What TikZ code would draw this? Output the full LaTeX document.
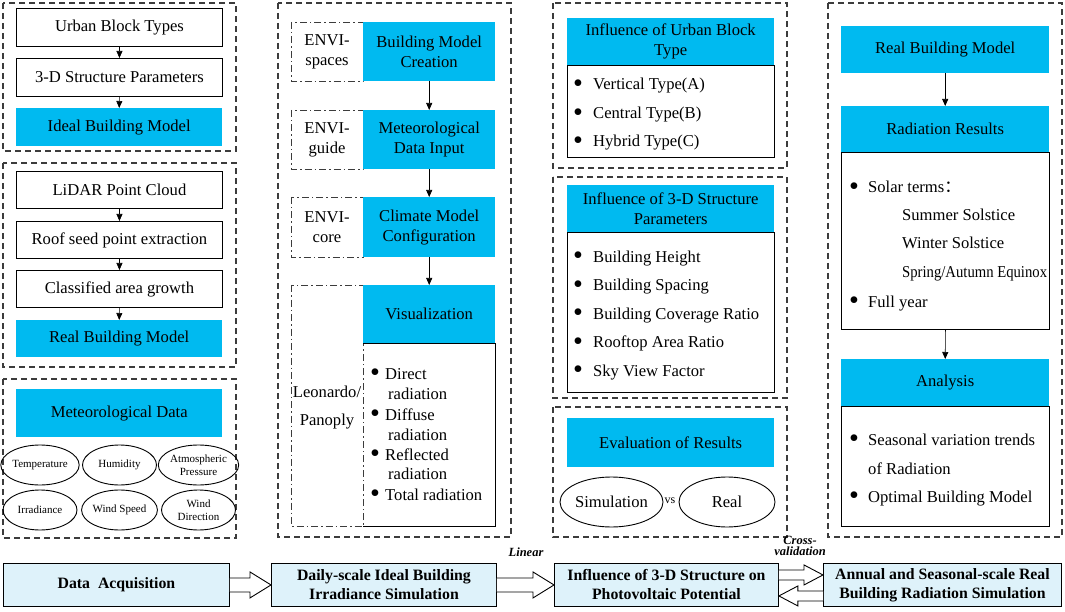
\documentclass[tikz,border=0pt]{standalone}
\usepackage{fontspec}
\setmainfont{Liberation Serif}
\newfontfamily\cjkfont{Noto Sans CJK SC}
\usepackage{graphicx}
\usetikzlibrary{arrows.meta,calc,shapes.geometric}
\definecolor{cyanbox}{RGB}{0,186,240}
\definecolor{lightbox}{RGB}{222,242,250}
\definecolor{grpgray}{RGB}{60,60,60}
\newcommand\bigbul{\raisebox{-2.6pt}{\scalebox{1.7}{\textbullet}}}
\newcommand\bulA{\makebox[20pt][l]{\bigbul}}
\newcommand\bulB{\makebox[15pt][l]{\bigbul}}
\newcommand\bulC{\makebox[19pt][l]{\bigbul}}
\begin{document}
\begin{tikzpicture}[x=1pt,y=-1pt,
  font=\fontsize{16.6}{20}\selectfont,
  grp/.style={draw=grpgray, line width=1.2pt, dash pattern=on 6pt off 4pt},
  ddash/.style={draw=grpgray, line width=0.9pt, dash pattern=on 7pt off 3pt on 1.5pt off 3pt},
  wbox/.style={draw=black, line width=0.9pt, fill=white, inner sep=0pt, anchor=north west, align=center},
  cbox/.style={fill=cyanbox, inner sep=0pt, anchor=north west, align=center},
  ell/.style={ellipse, draw, line width=0.9pt, inner sep=0pt, minimum width=74pt, minimum height=40pt, font=\fontsize{11}{13}\selectfont, align=center},
  arr/.style={-{Triangle[length=7pt,width=6pt]}, line width=0.6pt},
  litem/.style={anchor=west, inner sep=0pt, text height=12pt, text depth=2pt},
  bbox/.style={draw=black, line width=0.9pt, fill=lightbox, inner sep=0pt, anchor=north west, align=center, font=\bfseries\fontsize{15.8}{19}\selectfont},
  harrow/.style={draw=black, line width=0.9pt, fill=white},
  lab/.style={inner sep=0pt, align=center, font=\bfseries\itshape\fontsize{12.5}{11}\selectfont},
]
\useasboundingbox (0,0) rectangle (1065,612);

% ---------------- Column 1 ----------------
\draw[grp] (3,3) rectangle (236,151);
\node[wbox, minimum width=206pt, minimum height=38pt] (ubt) at (16,8) {Urban Block Types};
\node[wbox, minimum width=206pt, minimum height=38pt] (sdp) at (16,58) {3-D Structure Parameters};
\node[cbox, minimum width=206pt, minimum height=38pt] (ibm) at (16,108) {Ideal Building Model};
\draw[arr] (ubt.south) -- (sdp.north);
\draw[arr] (sdp.south) -- (ibm.north);

\draw[grp] (3,163) rectangle (236,367);
\node[wbox, minimum width=206pt, minimum height=37pt] (lidar) at (16,171) {LiDAR Point Cloud};
\node[wbox, minimum width=206pt, minimum height=37pt] (roof) at (16,221) {Roof seed point extraction};
\node[wbox, minimum width=206pt, minimum height=37pt] (cag) at (16,270) {Classified area growth};
\node[cbox, minimum width=206pt, minimum height=37pt] (rbm) at (16,320) {Real Building Model};
\draw[arr] (lidar.south) -- (roof.north);
\draw[arr] (roof.south) -- (cag.north);
\draw[arr] (cag.south) -- (rbm.north);

\draw[grp] (3,379) rectangle (236,538);
\node[cbox, minimum width=206pt, minimum height=48pt] (met) at (16,389) {Meteorological Data};
\node[ell] (e1) at (40,465) {Temperature};
\node[ell] (e2) at (119.5,465) {Humidity};
\node[ell] (e3) at (198.5,465) {Atmospheric\\Pressure};
\node[ell] (e4) at (40,510) {Irradiance};
\node[ell] (e5) at (119.5,510) {Wind Speed};
\node[ell] (e6) at (198.5,510) {Wind\\Direction};

% ---------------- Column 2 ----------------
\draw[grp] (278,3) rectangle (511,537);
\draw[ddash] (291,22) rectangle (363,81);
\draw[ddash] (291,110) rectangle (363,169);
\draw[ddash] (291,197) rectangle (363,257);
\draw[ddash] (291,285) rectangle (363,526);
\node[align=center, inner sep=0pt] (t1) at (327,52) {ENVI-\\spaces};
\node[align=center, inner sep=0pt] (t2) at (327,140) {ENVI-\\guide};
\node[align=center, inner sep=0pt] (t3) at (327,227) {ENVI-\\core};
\node[align=center, inner sep=0pt, font=\fontsize{16.6}{28}\selectfont] (t4) at (327,408) {Leonardo/\\Panoply};
\node[cbox, minimum width=132pt, minimum height=59pt] (bmc) at (363,22) {Building Model\\Creation};
\node[cbox, minimum width=132pt, minimum height=59pt] (mdi) at (363,110) {Meteorological\\Data Input};
\node[cbox, minimum width=132pt, minimum height=60pt] (cmc) at (363,197) {Climate Model\\Configuration};
\node[cbox, minimum width=132pt, minimum height=58pt] (vis) at (363,285) {Visualization};
\node[inner sep=0pt, anchor=north west, minimum width=132pt, minimum height=183pt] (vlist) at (363,343) {};
\draw[line width=0.9pt] (vlist.north west) -- (vlist.north east) -- (vlist.south east) -- (vlist.south west);
\draw[arr] (bmc.south) -- (mdi.north);
\draw[arr] (mdi.south) -- (cmc.north);
\draw[arr] (cmc.south) -- (vis.north);
\node[litem] (v1) at (370,374) {\bulB Direct};
\node[litem] (v1b) at (388,394) {radiation};
\node[litem] (v2) at (370,415) {\bulB Diffuse};
\node[litem] (v2b) at (388,435) {radiation};
\node[litem] (v3) at (370,455) {\bulB Reflected};
\node[litem] (v3b) at (388,474) {radiation};
\node[litem] (v4) at (370,495) {\bulB Total radiation};

% ---------------- Column 3 ----------------
\draw[grp] (553,3) rectangle (787,168);
\node[cbox, minimum width=207pt, minimum height=47pt] (iub) at (567,18) {Influence of Urban Block\\Type};
\node[wbox, minimum width=207pt, minimum height=92pt] (iublist) at (567,65) {};
\node[litem] (u1) at (573,85) {\bulA Vertical Type(A)};
\node[litem] (u2) at (573,113.5) {\bulA Central Type(B)};
\node[litem] (u3) at (573,142) {\bulA Hybrid Type(C)};

\draw[grp] (553,177) rectangle (787,398);
\node[cbox, minimum width=207pt, minimum height=47pt] (isp) at (567,185) {Influence of 3-D Structure\\Parameters};
\node[wbox, minimum width=207pt, minimum height=160pt] (isplist) at (567,232) {};
\node[litem] (s1) at (573,257) {\bulA Building Height};
\node[litem] (s2) at (573,285.5) {\bulA Building Spacing};
\node[litem] (s3) at (573,314) {\bulA Building Coverage Ratio};
\node[litem] (s4) at (573,342.5) {\bulA Rooftop Area Ratio};
\node[litem] (s5) at (573,371) {\bulA Sky View Factor};

\draw[grp] (553,407) rectangle (787,537);
\node[cbox, minimum width=207pt, minimum height=49pt] (eor) at (567,418) {Evaluation of Results};
\node[ell, minimum width=96pt, minimum height=50pt, font=\fontsize{16.6}{20}\selectfont] (sim) at (611.5,502) {Simulation};
\node[ell, minimum width=96pt, minimum height=50pt, font=\fontsize{16.6}{20}\selectfont] (real) at (727,502) {Real};
\node[inner sep=0pt, font=\fontsize{12}{14}\selectfont] (vs) at (670,501) {vs};

% ---------------- Column 4 ----------------
\draw[grp] (828,3) rectangle (1062,537);
\node[cbox, minimum width=208pt, minimum height=47pt] (rbm2) at (841,26) {Real Building Model};
\node[cbox, minimum width=208pt, minimum height=46pt] (rr) at (841,106) {Radiation Results};
\node[wbox, minimum width=208pt, minimum height=177pt] (rrlist) at (841,152) {};
\node[litem] (r1) at (849,188) {\bulC Solar terms{\cjkfont ：}};
\node[litem] (r2) at (902,216) {Summer Solstice};
\node[litem] (r3) at (902,244) {Winter Solstice};
\node[litem] (r4) at (902,273) {\scalebox{0.885}[1]{Spring/Autumn Equinox}};
\node[litem] (r5) at (849,302) {\bulC Full year};
\node[cbox, minimum width=208pt, minimum height=47pt] (an) at (841,359) {Analysis};
\node[wbox, minimum width=208pt, minimum height=120pt] (anlist) at (841,406) {};
\node[litem] (a1) at (849,440) {\bulC Seasonal variation trends};
\node[litem] (a1b) at (868,469) {of Radiation};
\node[litem] (a2) at (849,497) {\bulC Optimal Building Model};
\draw[arr] (rbm2.south) -- (rr.north);
\draw[arr] (rrlist.south) -- (an.north);

% ---------------- Bottom row ----------------
\node[bbox, minimum width=226pt, minimum height=43pt] (da) at (3,563) {Data\ \ Acquisition};
\node[bbox, minimum width=225pt, minimum height=43pt] (daily) at (271,563) {Daily-scale Ideal Building\\Irradiance Simulation};
\node[bbox, minimum width=224pt, minimum height=43pt] (infl) at (554,563) {Influence of 3-D Structure on\\Photovoltaic Potential};
\node[bbox, minimum width=238pt, minimum height=43pt] (ann) at (823,563) {Annual and Seasonal-scale Real\\Building Radiation Simulation};

\draw[harrow] ($(da.east)+(0,-7)$) -- ($(daily.west)+(-21,-7)$) -- ($(daily.west)+(-21,-13)$) -- (daily.west) -- ($(daily.west)+(-21,13)$) -- ($(daily.west)+(-21,7)$) -- ($(da.east)+(0,7)$);
\draw[harrow] ($(daily.east)+(0,-7)$) -- ($(infl.west)+(-21,-7)$) -- ($(infl.west)+(-21,-13)$) -- (infl.west) -- ($(infl.west)+(-21,13)$) -- ($(infl.west)+(-21,7)$) -- ($(daily.east)+(0,7)$);
\draw[harrow] ($(infl.east)+(0,-15)$) -- ($(ann.west)+(-19,-15)$) -- ($(ann.west)+(-19,-20)$) -- ($(ann.west)+(0,-10)$) -- ($(ann.west)+(-19,0)$) -- ($(ann.west)+(-19,-5)$) -- ($(infl.east)+(0,-5)$);
\draw[harrow] ($(ann.west)+(0,6)$) -- ($(infl.east)+(19,6)$) -- ($(infl.east)+(19,1)$) -- ($(infl.east)+(0,11)$) -- ($(infl.east)+(19,21)$) -- ($(infl.east)+(19,16)$) -- ($(ann.west)+(0,16)$);

\node[lab] (linear) at (526,552) {Linear};
\node[lab] (cv) at (800,546) {Cross-\\validation};
\end{tikzpicture}
\end{document}
